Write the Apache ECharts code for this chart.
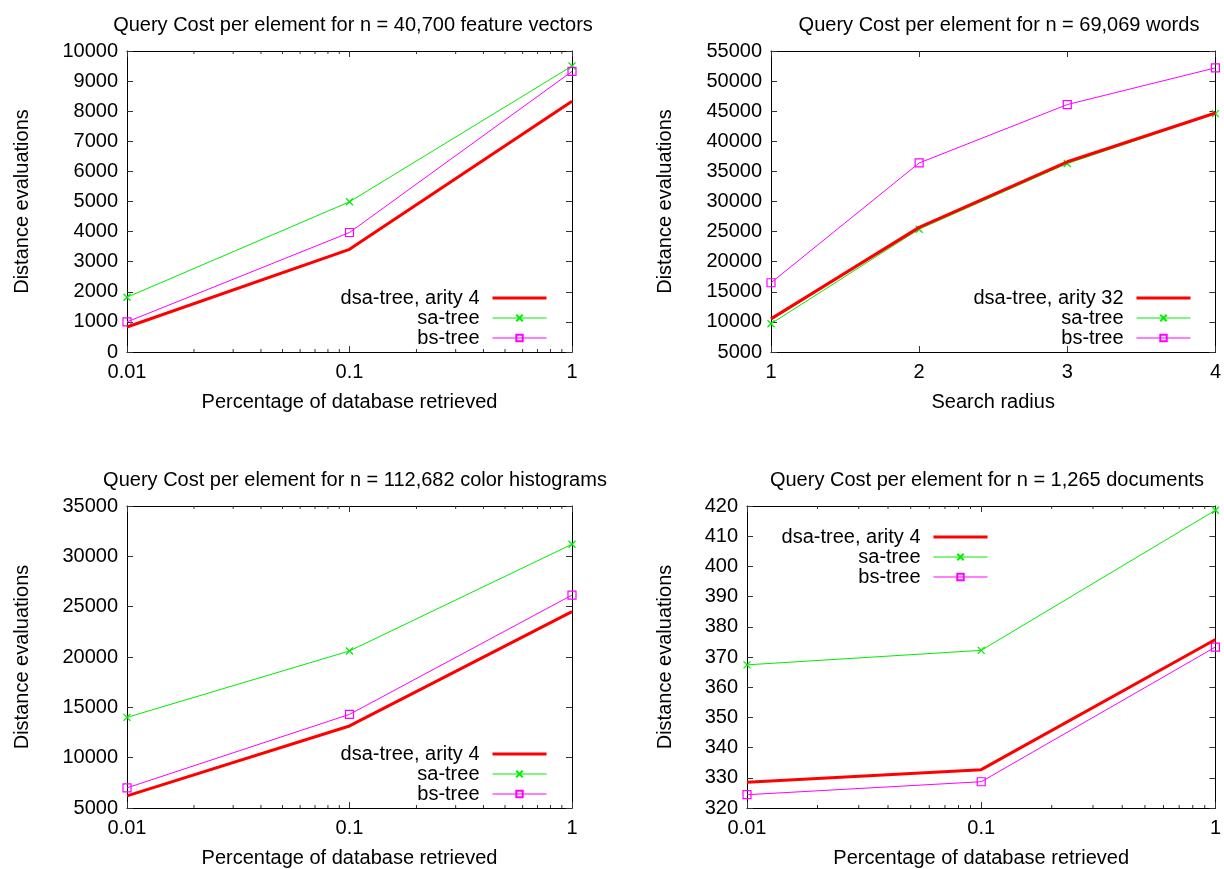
<!DOCTYPE html>
<html>
<head>
<meta charset="utf-8">
<script src="https://cdn.jsdelivr.net/npm/echarts@6/dist/echarts.min.js"></script>
<style>
html,body{margin:0;padding:0;background:#fff;}
#chart{width:1224px;height:869px;}
</style>
</head>
<body>
<div id="chart"></div>
<script>
// ---------------- data ----------------
const pctRetrieved = [0.01, 0.1, 1];
const searchRadius = [1, 2, 3, 4];
const logTickLabels = ['0.01', '0.1', '1'];
const minorLogTicks = [0.02,0.03,0.04,0.05,0.06,0.07,0.08,0.09,0.2,0.3,0.4,0.5,0.6,0.7,0.8,0.9];

const titles = [
  'Query Cost per element for n = 40,700 feature vectors',
  'Query Cost per element for n = 69,069 words',
  'Query Cost per element for n = 112,682 color histograms',
  'Query Cost per element for n = 1,265 documents'
];
const xNames = ['Percentage of database retrieved', 'Search radius', 'Percentage of database retrieved', 'Percentage of database retrieved'];
const yName = 'Distance evaluations';
const dsaNames = ['dsa-tree, arity 4', 'dsa-tree, arity 32', 'dsa-tree, arity 4', 'dsa-tree, arity 4'];

// panel 1: feature vectors
const p1Dsa = [830, 3410, 8330];
const p1Sa  = [1820, 4990, 9500];
const p1Bs  = [1000, 3970, 9320];
// panel 2: words
const p2Dsa = [10500, 25700, 36600, 44700];
const p2Sa  = [9700, 25400, 36300, 44600];
const p2Bs  = [16500, 36400, 46100, 52200];
// panel 3: color histograms
const p3Dsa = [6200, 13150, 24500];
const p3Sa  = [14000, 20600, 31200];
const p3Bs  = [7000, 14300, 26150];
// panel 4: documents
const p4Dsa = [328.5, 332.7, 375.8];
const p4Sa  = [367.4, 372.2, 418.6];
const p4Bs  = [324.4, 328.7, 373.3];

const yRanges = [[0, 10000, 1000], [5000, 55000, 5000], [5000, 35000, 5000], [320, 420, 10]];

// ---------------- layout ----------------
const grids = [
  {left: 127, top: 51, width: 445, height: 301},
  {left: 771, top: 51, width: 445, height: 301},
  {left: 127, top: 506, width: 445, height: 302},
  {left: 747, top: 506, width: 469, height: 302}
];
const titlePos = [[348, 10], [994, 10], [350, 465], [982, 465]];
const yNameGap = [95, 96, 95, 72];
const legendPos = [
  {right: 676, top: 288},
  {right: 32, top: 288},
  {right: 676, top: 744},
  {right: 235, top: 527}
];

const FONT = 'Liberation Sans, Arial, Helvetica, sans-serif';
const RED = '#ff0000', GREEN = '#00ee00', MAGENTA = '#ff00ff';
const crossPath = 'path://M0,0L10,10M0,10L10,0';

const option = {
  animation: false,
  backgroundColor: '#fff',
  textStyle: {fontFamily: FONT},
  title: [], grid: [], xAxis: [], yAxis: [], series: [], legend: []
};

function pairs(xs, ys) { return xs.map((x, i) => [x, ys[i]]); }

const panelData = [
  [pctRetrieved, p1Dsa, p1Sa, p1Bs],
  [searchRadius, p2Dsa, p2Sa, p2Bs],
  [pctRetrieved, p3Dsa, p3Sa, p3Bs],
  [pctRetrieved, p4Dsa, p4Sa, p4Bs]
];

for (let i = 0; i < 4; i++) {
  const isLog = i !== 1;
  const [ymin, ymax, yint] = yRanges[i];
  option.title.push({
    text: titles[i], left: titlePos[i][0], top: titlePos[i][1], textAlign: 'center',
    textStyle: {fontFamily: FONT, fontSize: 20, fontWeight: 'normal', color: '#000'}
  });
  option.grid.push(Object.assign({containLabel: false}, grids[i]));

  const xCommon = isLog
    ? {type: 'log', logBase: 10, min: 0.01, max: 1}
    : {type: 'value', min: 1, max: 4, interval: 1};
  const axisLine = {show: true, onZero: false, lineStyle: {color: '#000', width: 1}};
  const axisTick = {show: true, inside: true, length: 6, lineStyle: {color: '#333', width: 1}};

  option.xAxis.push(Object.assign({}, xCommon, {
    gridIndex: i, position: 'bottom',
    name: xNames[i], nameLocation: 'middle', nameGap: 40,
    nameTextStyle: {fontFamily: FONT, fontSize: 20, color: '#000'},
    axisLine, axisTick, splitLine: {show: false},
    axisLabel: {
      fontFamily: FONT, fontSize: 20, color: '#000', margin: 10,
      formatter: isLog ? (v => logTickLabels[Math.round(Math.log10(v)) + 2]) : (v => String(v))
    }
  }));
  option.xAxis.push(Object.assign({}, xCommon, {
    gridIndex: i, position: 'top', axisLine, axisTick,
    axisLabel: {show: false}, splitLine: {show: false}
  }));
  option.yAxis.push({
    type: 'value', gridIndex: i, min: ymin, max: ymax, interval: yint, position: 'left',
    name: yName, nameLocation: 'middle', nameGap: yNameGap[i], nameRotate: 90,
    nameTextStyle: {fontFamily: FONT, fontSize: 20, color: '#000'},
    axisLine, axisTick, splitLine: {show: false},
    axisLabel: {fontFamily: FONT, fontSize: 20, color: '#000', margin: 9, formatter: v => String(v)}
  });
  option.yAxis.push({
    type: 'value', gridIndex: i, min: ymin, max: ymax, interval: yint, position: 'right',
    axisLine, axisTick, axisLabel: {show: false}, splitLine: {show: false}
  });

  const xi = i * 2, yi = i * 2;
  const [xs, dsa, sa, bs] = panelData[i];
  option.series.push({
    type: 'line', name: dsaNames[i], xAxisIndex: xi, yAxisIndex: yi,
    data: pairs(xs, dsa), symbol: 'none', z: 3,
    lineStyle: {color: RED, width: 3}, itemStyle: {color: RED}
  });
  option.series.push({
    type: 'line', name: 'sa-tree', xAxisIndex: xi, yAxisIndex: yi,
    data: pairs(xs, sa), symbol: crossPath, symbolSize: 7, showAllSymbol: true, z: 2,
    lineStyle: {color: GREEN, width: 1},
    itemStyle: {color: 'rgba(0,0,0,0)', borderColor: GREEN, borderWidth: 1.3}
  });
  option.series.push({
    type: 'line', name: 'bs-tree', xAxisIndex: xi, yAxisIndex: yi,
    data: pairs(xs, bs), symbol: 'rect', symbolSize: 8, showAllSymbol: true, z: 2,
    lineStyle: {color: MAGENTA, width: 1},
    itemStyle: {color: 'rgba(0,0,0,0)', borderColor: MAGENTA, borderWidth: 1.2}
  });

  if (isLog) {
    option.series.push({
      type: 'custom', name: 'minor-ticks-' + i, xAxisIndex: xi, yAxisIndex: yi, silent: true, z: 1,
      data: minorLogTicks.map(v => [v, ymin]),
      encode: {x: 0, y: 1},
      renderItem: function (params, api) {
        const v = api.value(0);
        const pb = api.coord([v, ymin]);
        const pt = api.coord([v, ymax]);
        const st = {stroke: '#333', lineWidth: 1};
        return {type: 'group', children: [
          {type: 'line', shape: {x1: pb[0], y1: pb[1], x2: pb[0], y2: pb[1] - 3}, style: st},
          {type: 'line', shape: {x1: pt[0], y1: pt[1], x2: pt[0], y2: pt[1] + 3}, style: st}
        ]};
      }
    });
  }

  option.legend.push(Object.assign({
    orient: 'vertical', align: 'right',
    data: [
      {name: dsaNames[i], itemStyle: {opacity: 0}, lineStyle: {width: 3, color: RED}},
      {name: 'sa-tree', lineStyle: {width: 1.2, color: GREEN}},
      {name: 'bs-tree', lineStyle: {width: 1.2, color: MAGENTA}}
    ],
    itemWidth: 54, itemHeight: 8, itemGap: 0, padding: 0,
    selectedMode: false,
    formatter: name => '{t|' + name + '}',
    textStyle: {
      fontFamily: FONT, fontSize: 20, color: '#000', lineHeight: 18,
      rich: {t: {fontFamily: FONT, fontSize: 20, color: '#000', lineHeight: 18, padding: [0, 8, 0, 0]}}
    }
  }, legendPos[i]));
}

const chart = echarts.init(document.getElementById('chart'), null, {renderer: 'canvas'});
chart.setOption(option);
</script>
</body>
</html>
